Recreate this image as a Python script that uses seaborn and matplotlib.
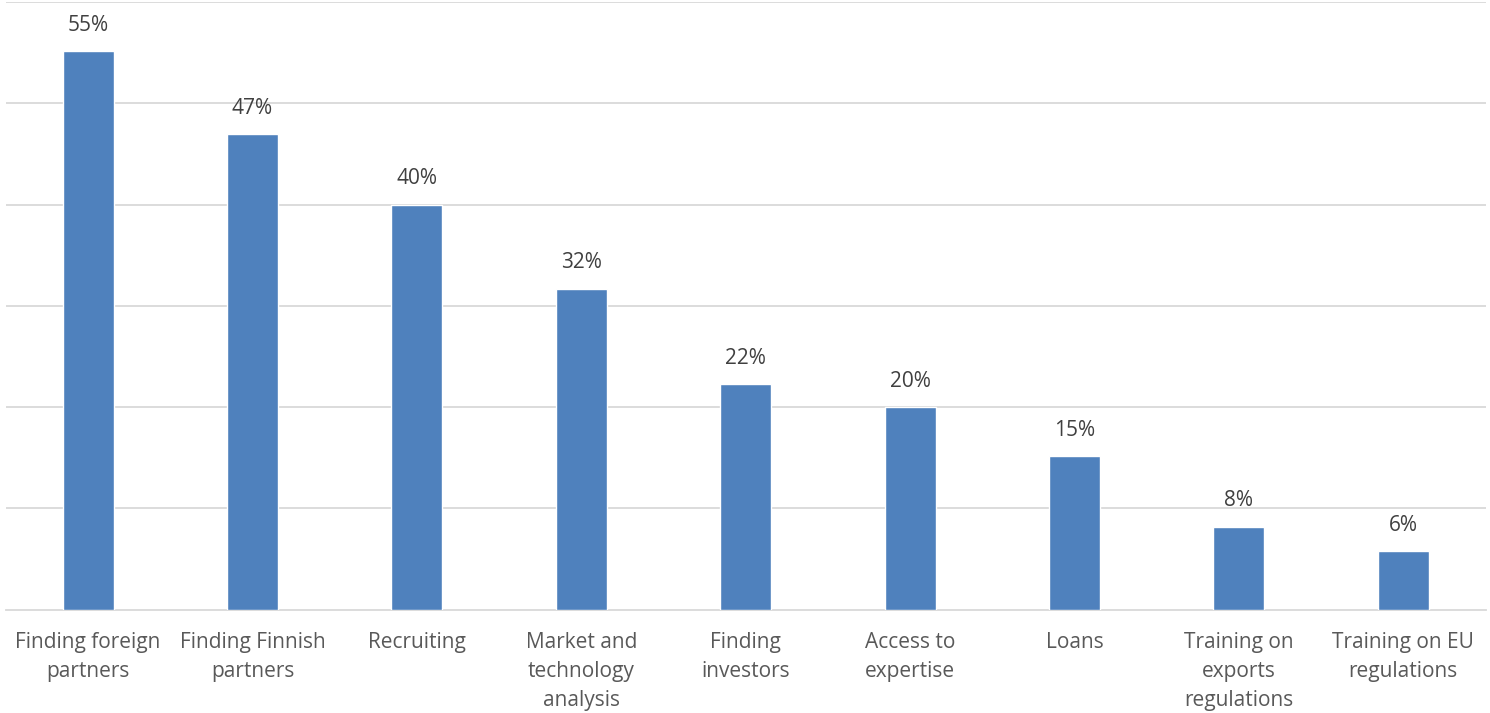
import matplotlib
matplotlib.use("Agg")
import matplotlib.pyplot as plt
import pandas as pd
import seaborn as sns

# values
categories = [
    "Finding foreign\npartners",
    "Finding Finnish\npartners",
    "Recruiting",
    "Market and\ntechnology\nanalysis",
    "Finding\ninvestors",
    "Access to\nexpertise",
    "Loans",
    "Training on\nexports\nregulations",
    "Training on EU\nregulations",
]
shares = [55.2, 47.0, 40.0, 31.7, 22.3, 20.0, 15.2, 8.2, 5.8]

df = pd.DataFrame({"category": categories, "share": shares})

sns.set_style("white")
plt.rcParams["font.family"] = ["Open Sans", "DejaVu Sans"]

fig = plt.figure(figsize=(14.9, 7.13), dpi=100)
ax = fig.add_axes([0.004, 0.145, 0.993, 0.852])

sns.barplot(data=df, x="category", y="share", color="#4F81BD",
            width=0.31, saturation=1, ax=ax, zorder=3)

# value labels above bars
for i, v in enumerate(shares):
    ax.text(i, v + 1.5, f"{v:.0f}%", ha="center", va="bottom",
            fontsize=15, color="#404040")

ax.set_ylim(0, 60)
ax.set_xlim(-0.5, len(categories) - 0.5)
ax.set_yticks([10, 20, 30, 40, 50, 60])
ax.yaxis.grid(True, color="#D9D9D9", linewidth=1.3, zorder=0)
ax.set_yticklabels([])
ax.tick_params(axis="y", length=0)
ax.tick_params(axis="x", length=0, pad=16, labelsize=15, labelcolor="#595959")
for lbl in ax.get_xticklabels():
    lbl.set_linespacing(1.5)
    lbl.set_va("top")

ax.set_xlabel("")
ax.set_ylabel("")
for side in ["top", "left", "right"]:
    ax.spines[side].set_visible(False)
ax.spines["bottom"].set_color("#D9D9D9")
ax.spines["bottom"].set_linewidth(1.3)

fig.savefig("out.png", dpi=100)
